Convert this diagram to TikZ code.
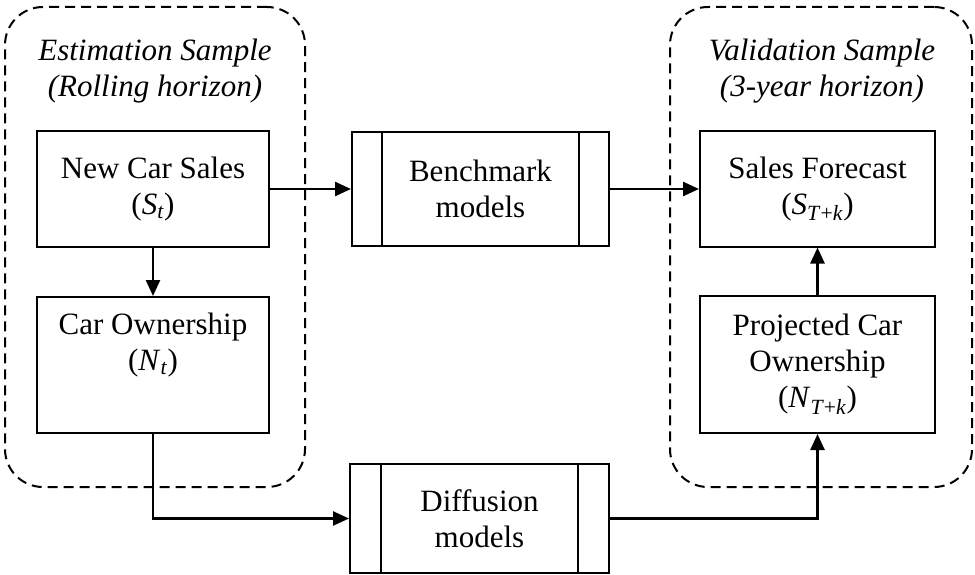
\documentclass[tikz,border=0pt]{standalone}
\usepackage{fontspec}
\setmainfont{Liberation Serif}
\usetikzlibrary{arrows.meta,positioning}
\tikzset{
  every node/.style={font=\fontsize{31}{36}\selectfont},
  box/.style={draw, line width=2pt, minimum width=#1, align=center, inner sep=0pt},
  grp/.style={draw, dashed, dash pattern=on 10pt off 6pt, line width=2pt, rounded corners=38pt, inner sep=0pt},
  conn/.style={line width=2.5pt, -{Triangle[length=16pt,width=14pt]}},
  title/.style={font=\fontsize{31}{36}\selectfont\itshape, align=center}
}
\begin{document}
\begin{tikzpicture}[x=1pt,y=-1pt]
\useasboundingbox (0,0) rectangle (975,575);
% groups
\node[grp, minimum width=300pt, minimum height=480pt] (est) at (155,247) {};
\node[grp, minimum width=302pt, minimum height=480pt] (val) at (821,247) {};
\node[title] (estt) at (155,71) {Estimation Sample\\(Rolling horizon)};
\node[title] (valt) at (822,71) {Validation Sample\\(3-year horizon)};
% boxes
\node[box=232pt, minimum height=115pt] (ncs) at (153,189) {New Car Sales\\(\textit{S}\textsubscript{\textit{t}})};
\node[box=232pt, minimum height=136pt] (co) at (153,365) {Car Ownership\\(\textit{N}\textsubscript{\textit{t}})\\ \strut};
\node[box=257pt, minimum height=113pt] (bm) at (480.5,189) {Benchmark\\models};
\node[box=259pt, minimum height=109pt] (dm) at (479.5,518.5) {Diffusion\\models};
\node[box=235pt, minimum height=115pt] (sf) at (817.5,189) {Sales Forecast\\(\textit{S}\textsubscript{\textit{T}+\textit{k}})};
\node[box=235pt, minimum height=137pt] (pco) at (817.5,364.5) {Projected Car\\Ownership\\(\textit{N}\textsubscript{\textit{T}+\textit{k}})};
% inner bars
\draw[line width=2pt] ([xshift=31pt]bm.north west) -- ([xshift=31pt]bm.south west);
\draw[line width=2pt] ([xshift=-31pt]bm.north east) -- ([xshift=-31pt]bm.south east);
\draw[line width=2pt] ([xshift=32pt]dm.north west) -- ([xshift=32pt]dm.south west);
\draw[line width=2pt] ([xshift=-32pt]dm.north east) -- ([xshift=-32pt]dm.south east);
% connectors
\draw[conn] (ncs.east) -- (bm.west);
\draw[conn] (bm.east) -- (sf.west);
\draw[conn] (ncs.south) -- (co.north);
\draw[conn] (co.south) |- (dm.west);
\draw[conn] (dm.east) -| (pco.south);
\draw[conn] (pco.north) -- (sf.south);
\end{tikzpicture}
\end{document}
